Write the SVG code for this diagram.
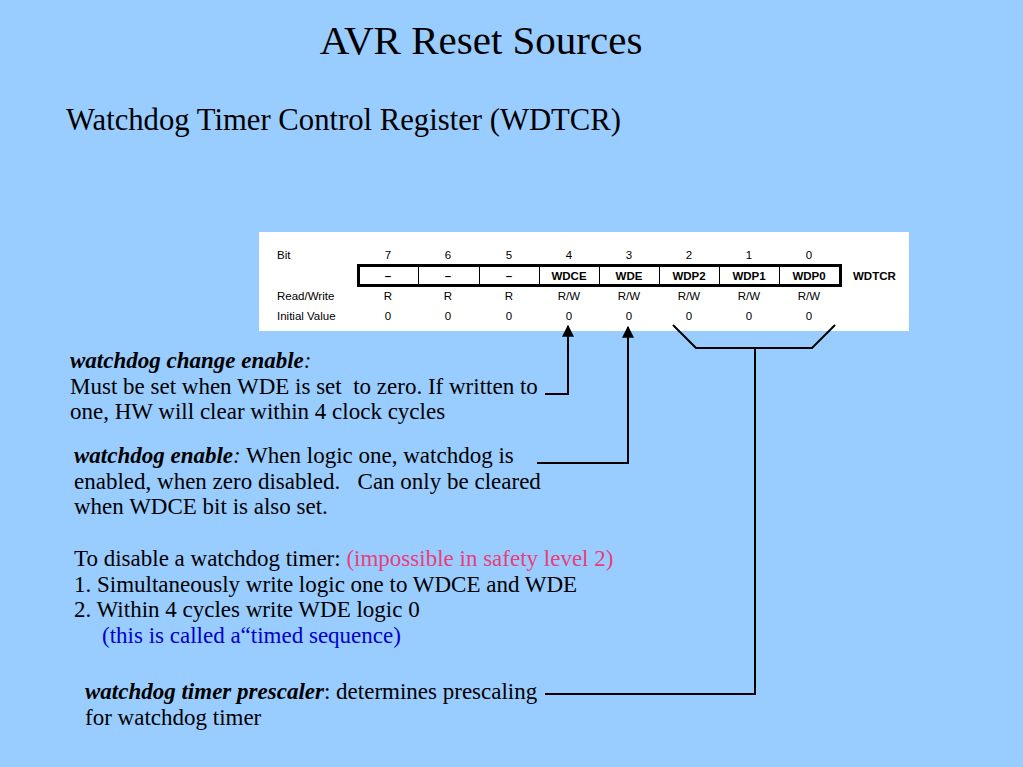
<svg xmlns="http://www.w3.org/2000/svg" width="1023" height="767" viewBox="0 0 1023 767">
<defs>
<style>
.serif{font-family:"Liberation Serif","Times New Roman",serif;fill:#000}
.body{font-size:23px}
.tbl{font-family:"Liberation Sans",Arial,sans-serif;font-size:11.5px;fill:#000}
.b{font-weight:bold}
.c{text-anchor:middle}
.con{fill:none;stroke:#000;stroke-width:2}
.cell{stroke:#000;stroke-width:1}
</style>
<marker id="arr" viewBox="0 0 10 10" refX="9" refY="5" markerWidth="6" markerHeight="6" orient="auto">
<path d="M0,0 L10,5 L0,10 z" fill="#000"/>
</marker>
</defs>
<rect x="0" y="0" width="1023" height="767" fill="#99CCFF"/>
<g id="title">
<text class="serif c" x="481" y="54" font-size="41">AVR Reset Sources</text>
<text class="serif" x="66" y="130" font-size="30.7">Watchdog Timer Control Register (WDTCR)</text>
</g>
<g id="register">
<rect x="259" y="232" width="650" height="99" fill="#fff"/>
<text class="tbl" x="277" y="259">Bit</text>
<g class="tbl c">
<text x="388" y="259">7</text><text x="448" y="259">6</text><text x="509" y="259">5</text><text x="569" y="259">4</text>
<text x="629" y="259">3</text><text x="689" y="259">2</text><text x="749" y="259">1</text><text x="809" y="259">0</text>
</g>
<rect x="358.5" y="265.5" width="482" height="20" fill="#fff" stroke="#000" stroke-width="3"/>
<g class="cell">
<line x1="418.5" y1="266" x2="418.5" y2="285"/><line x1="479.5" y1="266" x2="479.5" y2="285"/>
<line x1="539.5" y1="266" x2="539.5" y2="285"/><line x1="599.5" y1="266" x2="599.5" y2="285"/>
<line x1="659.5" y1="266" x2="659.5" y2="285"/><line x1="719.5" y1="266" x2="719.5" y2="285"/>
<line x1="779.5" y1="266" x2="779.5" y2="285"/>
</g>
<g class="tbl c b">
<text x="388" y="280">–</text><text x="448" y="280">–</text><text x="509" y="280">–</text>
<text x="569" y="280">WDCE</text><text x="629" y="280">WDE</text><text x="689" y="280">WDP2</text>
<text x="749" y="280">WDP1</text><text x="809" y="280">WDP0</text>
</g>
<text class="tbl b" x="853" y="280">WDTCR</text>
<text class="tbl" x="277" y="300">Read/Write</text>
<g class="tbl c">
<text x="388" y="300">R</text><text x="448" y="300">R</text><text x="509" y="300">R</text><text x="569" y="300">R/W</text>
<text x="629" y="300">R/W</text><text x="689" y="300">R/W</text><text x="749" y="300">R/W</text><text x="809" y="300">R/W</text>
</g>
<text class="tbl" x="277" y="320">Initial Value</text>
<g class="tbl c">
<text x="388" y="320">0</text><text x="448" y="320">0</text><text x="509" y="320">0</text><text x="569" y="320">0</text>
<text x="629" y="320">0</text><text x="689" y="320">0</text><text x="749" y="320">0</text><text x="809" y="320">0</text>
</g>
</g>
<g id="connectors">
<polyline class="con" points="545,394 568,394 568,326" marker-end="url(#arr)"/>
<polyline class="con" points="537,463 628,463 628,327" marker-end="url(#arr)"/>
<polyline class="con" points="673,325 696,348 812,348 835,325"/>
<polyline class="con" points="545,694 755,694 755,348"/>
</g>
<g id="wdce-note">
<text class="serif body" x="70" y="368"><tspan font-weight="bold" font-style="italic">watchdog change enable</tspan><tspan font-style="italic">:</tspan></text>
<text class="serif body" x="70" y="394" xml:space="preserve">Must be set when WDE is set  to zero. If written to</text>
<text class="serif body" x="70" y="419">one, HW will clear within 4 clock cycles</text>
</g>
<g id="wde-note">
<text class="serif body" x="74" y="463"><tspan font-weight="bold" font-style="italic">watchdog enable</tspan><tspan font-style="italic">:</tspan> When logic one, watchdog is</text>
<text class="serif body" x="74" y="489" xml:space="preserve">enabled, when zero disabled.   Can only be cleared</text>
<text class="serif body" x="74" y="514">when WDCE bit is also set.</text>
</g>
<g id="disable-note">
<text class="serif body" x="74" y="566">To disable a watchdog timer: <tspan fill="#E8407A">(impossible in safety level 2)</tspan></text>
<text class="serif body" x="74" y="592">1. Simultaneously write logic one to WDCE and WDE</text>
<text class="serif body" x="74" y="617">2. Within 4 cycles write WDE logic 0</text>
<text class="serif body" x="102" y="643" style="fill:#0000CC">(this is called a“timed sequence)</text>
</g>
<g id="prescaler-note">
<text class="serif body" x="85" y="699"><tspan font-weight="bold" font-style="italic">watchdog timer prescaler</tspan>: determines prescaling</text>
<text class="serif body" x="85" y="725">for watchdog timer</text>
</g>
</svg>
